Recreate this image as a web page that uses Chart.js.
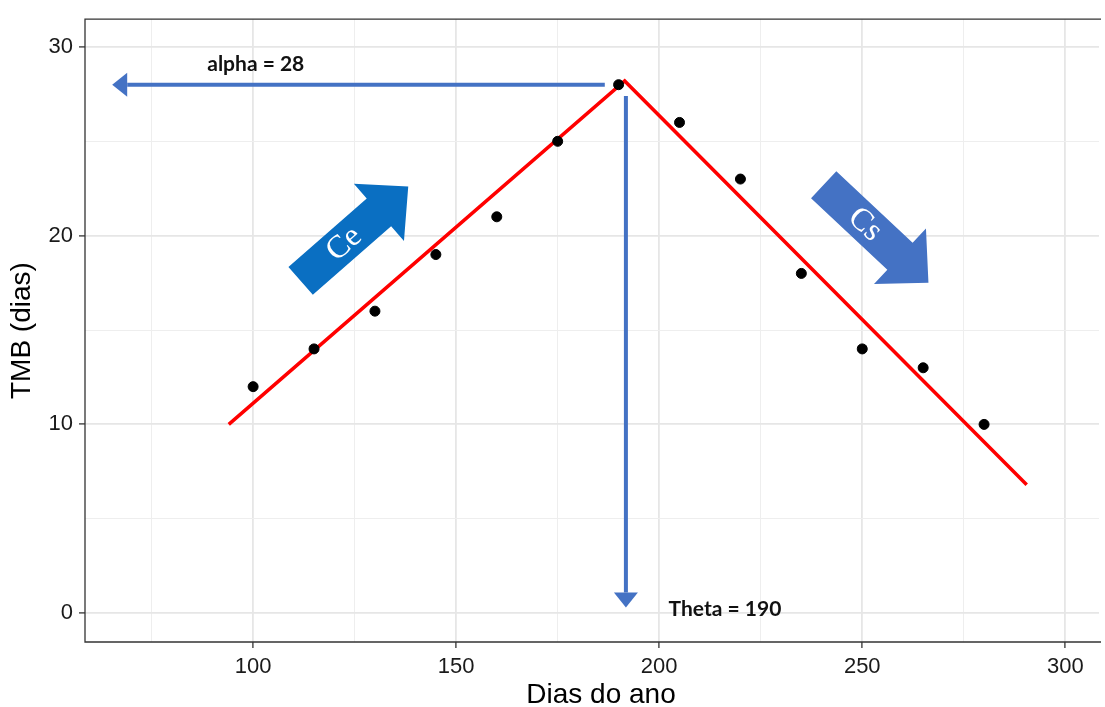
<!DOCTYPE html>
<html>
<head>
<meta charset="utf-8">
<script src="https://cdn.jsdelivr.net/npm/chart.js@4"></script>
<style>
  body { margin: 0; background: #fff; }
</style>
</head>
<body>
<canvas id="chart" width="1105" height="707"></canvas>
<script>
// observed points
const diasAno = [100, 115, 130, 145, 160, 175, 190, 205, 220, 235, 250, 265, 280];
const tmbDias = [12, 14, 16, 19, 21, 25, 28, 26, 23, 18, 14, 13, 10];

// fitted broken line (red)
const ajusteDias = [94, 191.5, 290.5];
const ajusteTmb = [10, 28.2, 6.8];

// axes
const xTicks = [75, 100, 125, 150, 175, 200, 225, 250, 275, 300];
const yTicks = [0, 5, 10, 15, 20, 25, 30];
const xLabelEvery = 50;
const yLabelEvery = 10;

// annotations (data units)
const alphaTexto = "alpha = 28";
const thetaTexto = "Theta = 190";
const setaAlphaX = [186.6, 65.3];
const setaAlphaY = [28, 28];
const setaThetaX = [191.8, 191.8];
const setaThetaY = [27.4, 0.3];
const setaCeX = [111.7, 138.2];
const setaCeY = [17.6, 22.6];
const setaCsX = [240.5, 266.3];
const setaCsY = [22.7, 17.5];

const azul = '#4472C4';
const azulCe = '#0A6FC2';
const fonteEixo = 'Arial, "Liberation Sans", sans-serif';

function toPoints(xs, ys) {
    let arr = [];
    for (let i = 0; i < xs.length; i++) {
        arr.push({x: xs[i], y: ys[i]});
    }
    return arr;
}

function lineArrow(ctx, x1, y1, x2, y2) {
    let ang = Math.atan2(y2 - y1, x2 - x1);
    let headLen = 15, headHalf = 12;
    ctx.save();
    ctx.strokeStyle = azul;
    ctx.fillStyle = azul;
    ctx.lineWidth = 4;
    ctx.beginPath();
    ctx.moveTo(x1, y1);
    ctx.lineTo(x2 - Math.cos(ang) * headLen, y2 - Math.sin(ang) * headLen);
    ctx.stroke();
    ctx.translate(x2, y2);
    ctx.rotate(ang);
    ctx.beginPath();
    ctx.moveTo(0, 0);
    ctx.lineTo(-headLen, -headHalf);
    ctx.lineTo(-headLen, headHalf);
    ctx.closePath();
    ctx.fill();
    ctx.restore();
}

function blockArrow(ctx, x1, y1, x2, y2, color, label) {
    let ang = Math.atan2(y2 - y1, x2 - x1);
    let len = Math.hypot(x2 - x1, y2 - y1);
    let shaftHalf = 18.5, headHalf = 38, headLen = 39;
    ctx.save();
    ctx.translate(x1, y1);
    ctx.rotate(ang);
    ctx.fillStyle = color;
    ctx.beginPath();
    ctx.moveTo(0, -shaftHalf);
    ctx.lineTo(len - headLen, -shaftHalf);
    ctx.lineTo(len - headLen, -headHalf);
    ctx.lineTo(len, 0);
    ctx.lineTo(len - headLen, headHalf);
    ctx.lineTo(len - headLen, shaftHalf);
    ctx.lineTo(0, shaftHalf);
    ctx.closePath();
    ctx.fill();
    ctx.fillStyle = '#fff';
    ctx.font = '32px "Liberation Serif", "DejaVu Serif", "Times New Roman", serif';
    ctx.textAlign = 'center';
    ctx.textBaseline = 'middle';
    ctx.fillText(label, len * 0.4, 1);
    ctx.restore();
}

const annotations = {
    id: 'annotations',
    beforeDatasetsDraw(chart) {
        let ctx = chart.ctx;
        let a = chart.chartArea;
        ctx.save();
        ctx.strokeStyle = '#333';
        ctx.lineWidth = 1.3;
        ctx.beginPath();
        ctx.moveTo(a.right + 2, a.top);
        ctx.lineTo(a.left, a.top);
        ctx.lineTo(a.left, a.bottom);
        ctx.lineTo(a.right + 2, a.bottom);
        ctx.stroke();
        ctx.restore();
    },
    afterDatasetsDraw(chart) {
        let ctx = chart.ctx;
        let sx = chart.scales.x, sy = chart.scales.y;
        let px = v => sx.getPixelForValue(v);
        let py = v => sy.getPixelForValue(v);

        lineArrow(ctx, px(setaAlphaX[0]), py(setaAlphaY[0]), px(setaAlphaX[1]), py(setaAlphaY[1]));
        lineArrow(ctx, px(setaThetaX[0]), py(setaThetaY[0]), px(setaThetaX[1]), py(setaThetaY[1]));

        blockArrow(ctx, px(setaCeX[0]), py(setaCeY[0]), px(setaCeX[1]), py(setaCeY[1]), azulCe, 'Ce');
        blockArrow(ctx, px(setaCsX[0]), py(setaCsY[0]), px(setaCsX[1]), py(setaCsY[1]), azul, 'Cs');

        ctx.save();
        ctx.fillStyle = '#111';
        ctx.font = 'bold 21px Lato, sans-serif';
        ctx.textBaseline = 'middle';
        ctx.textAlign = 'left';
        ctx.fillText(alphaTexto, px(88.7), py(29.1));
        ctx.fillText(thetaTexto, px(202.3), py(0.2));

        // axis titles
        ctx.fillStyle = '#000';
        ctx.font = '28px ' + fonteEixo;
        ctx.textAlign = 'center';
        ctx.fillText('Dias do ano', 601, 695);
        ctx.translate(22, (chart.chartArea.top + chart.chartArea.bottom) / 2);
        ctx.rotate(-Math.PI / 2);
        ctx.fillText('TMB (dias)', 0, 0);
        ctx.restore();
    }
};

function gridStyle(isMajor) {
    return {
        color: ctx => isMajor(ctx.tick && ctx.tick.value) ? '#e6e6e6' : '#eeeeee',
        lineWidth: ctx => isMajor(ctx.tick && ctx.tick.value) ? 1.8 : 1,
        tickColor: ctx => isMajor(ctx.tick && ctx.tick.value) ? '#333' : 'rgba(0,0,0,0)',
        tickLength: 6,
        tickWidth: 1.3,
        drawTicks: true
    };
}

const isMajorX = v => v % xLabelEvery === 0;
const isMajorY = v => v % yLabelEvery === 0;

let ctx = document.getElementById('chart');
let chart = new Chart(ctx, {
    type: 'scatter',
    data: {
        datasets: [{
            label: 'TMB',
            data: toPoints(diasAno, tmbDias),
            backgroundColor: '#000',
            borderColor: '#000',
            pointRadius: 5,
            order: 0
        }, {
            label: 'ajuste',
            type: 'line',
            data: toPoints(ajusteDias, ajusteTmb),
            borderColor: '#ff0000',
            borderWidth: 3.5,
            pointRadius: 0,
            fill: false,
            tension: 0,
            order: 1
        }]
    },
    plugins: [annotations],
    options: {
        responsive: false,
        animation: false,
        devicePixelRatio: 1,
        layout: { padding: { top: 15, right: 0, left: 0, bottom: 0 } },
        plugins: { legend: { display: false }, tooltip: { enabled: false } },
        scales: {
            x: {
                type: 'linear',
                min: 58.6,
                max: 308.3,
                afterBuildTicks: axis => { axis.ticks = xTicks.map(v => ({value: v})); },
                afterFit: axis => { axis.height = 65; },
                border: { display: false },
                grid: gridStyle(isMajorX),
                ticks: {
                    callback: v => isMajorX(v) ? String(v) : '',
                    color: '#1a1a1a',
                    font: { family: fonteEixo, size: 22 },
                    padding: 6,
                    maxRotation: 0,
                    autoSkip: false
                }
            },
            y: {
                type: 'linear',
                min: -1.53,
                max: 31.47,
                afterBuildTicks: axis => { axis.ticks = yTicks.map(v => ({value: v})); },
                afterFit: axis => { axis.width = 85; },
                border: { display: false },
                grid: gridStyle(isMajorY),
                ticks: {
                    callback: v => isMajorY(v) ? String(v) : '',
                    color: '#1a1a1a',
                    font: { family: fonteEixo, size: 22 },
                    padding: 6,
                    autoSkip: false
                }
            }
        }
    }
});
</script>
</body>
</html>
